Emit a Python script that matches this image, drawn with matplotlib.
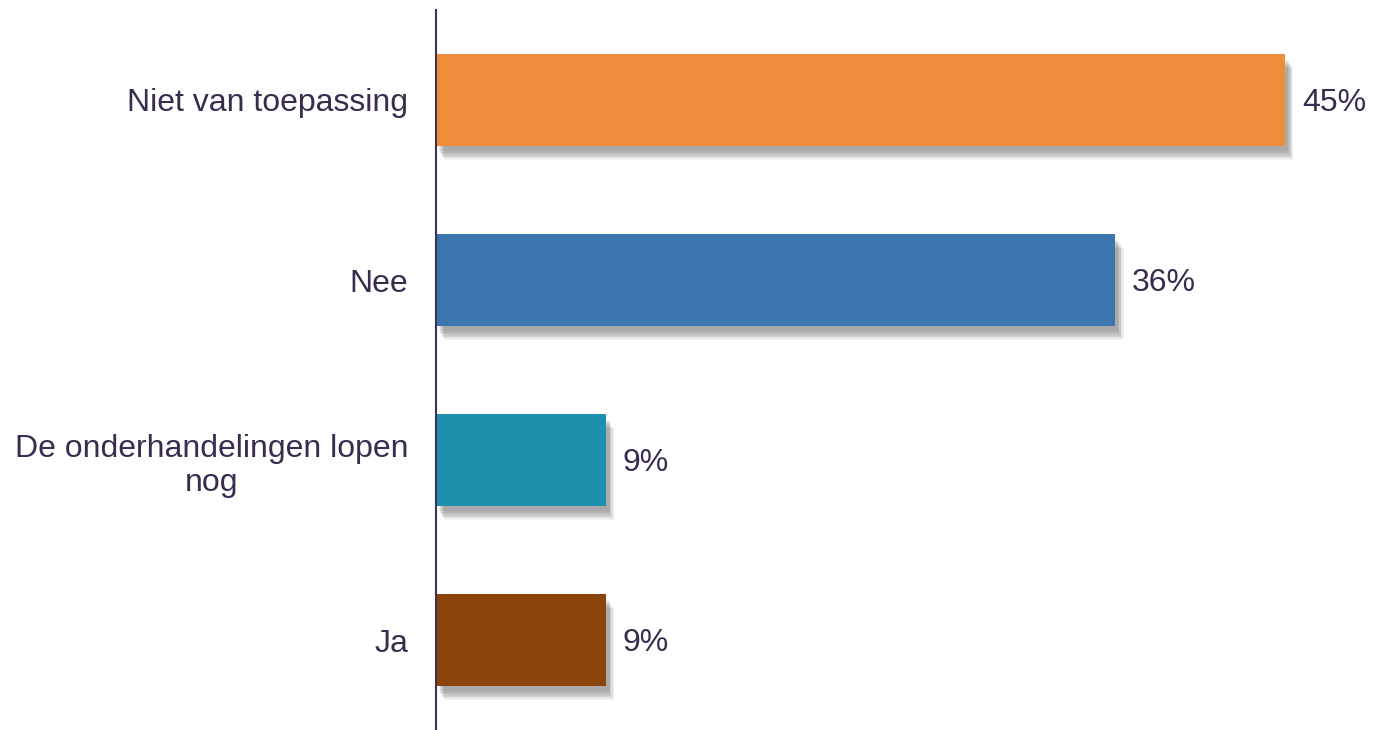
import numpy as np
import matplotlib.pyplot as plt
import matplotlib.patheffects as pe

plt.rcParams['font.family'] = ['Liberation Sans', 'DejaVu Sans']

categories = ['Niet van toepassing', 'Nee', 'De onderhandelingen lopen\nnog', 'Ja']
values = [45.45, 36.36, 9.09, 9.09]
labels = ['45%', '36%', '9%', '9%']
colors = ['#F08D3B', '#3B76AE', '#1F8FAE', '#8B4409']

text_col = '#3A2C4E'

fig = plt.figure(figsize=(13.73, 7.30), dpi=100)
ax = fig.add_axes([436 / 1373, 0, 937 / 1373, 720 / 730])

y = np.arange(len(categories))
bars = ax.barh(y, values, height=0.51, color=colors)

# soft shadow: a few stacked offset copies
shadow = [pe.SimplePatchShadow(offset=(dx, -dy), shadow_rgbFace='#555555', alpha=0.09)
          for dx, dy in [(6, 10), (5, 9), (4, 8), (4, 7), (3, 6), (3, 5), (2, 4)]]
for b in bars:
    b.set_path_effects(shadow + [pe.Normal()])

for yi, v, lab in zip(y, values, labels):
    ax.annotate(lab, (v, yi), xytext=(17, -3), textcoords='offset pixels',
                va='center', ha='left', fontsize=23, color=text_col)

ax.set_xlim(0, 50.16)
ax.set_ylim(3.5, -0.5)
ax.set_yticks(y)
ax.set_yticklabels(categories, fontsize=23, color=text_col, multialignment='center')
ax.tick_params(axis='y', length=0, pad=20)
ax.set_xticks([])

for s in ['top', 'right', 'bottom']:
    ax.spines[s].set_visible(False)
ax.spines['left'].set_color('#3D3159')
ax.spines['left'].set_linewidth(1.5)
ax.spines['left'].set_zorder(5)

fig.savefig('out.png', dpi=100)
